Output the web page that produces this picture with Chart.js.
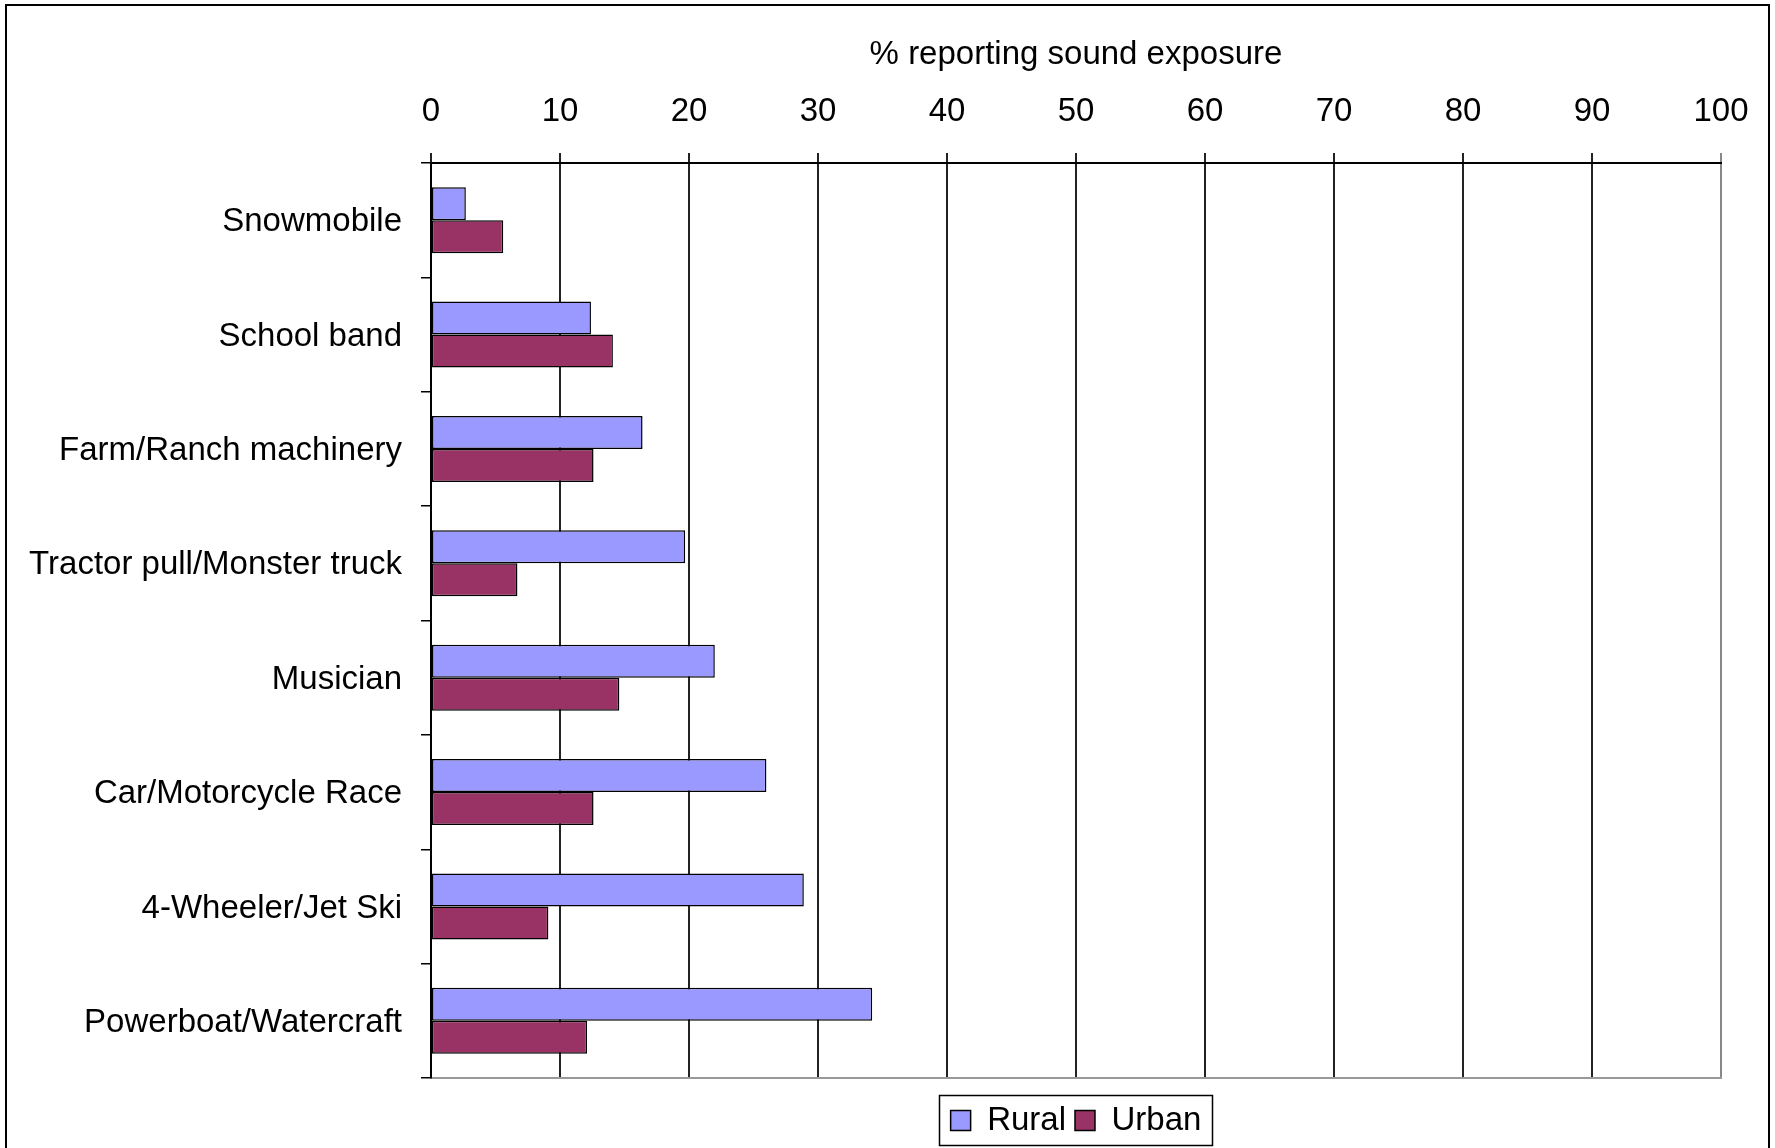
<!DOCTYPE html>
<html>
<head>
<meta charset="utf-8">
<script src="https://cdn.jsdelivr.net/npm/chart.js"></script>
<style>
  html, body { margin: 0; padding: 0; background: #fff; overflow: hidden; }
  #frame { position: absolute; left: 5px; top: 4px; width: 1761px; height: 1200px; border: 2px solid #000; }
  #wrap { position: absolute; left: 0; top: 0; width: 1775px; height: 1148px; }
</style>
</head>
<body>
<div id="frame"></div>
<div id="wrap"><canvas id="chart"></canvas></div>
<script>
// data
const categories = [
  'Snowmobile',
  'School band',
  'Farm/Ranch machinery',
  'Tractor pull/Monster truck',
  'Musician',
  'Car/Motorcycle Race',
  '4-Wheeler/Jet Ski',
  'Powerboat/Watercraft'
];
const seriesNames = ['Rural', 'Urban'];
const rural = [2.7, 12.4, 16.4, 19.7, 22.0, 26.0, 28.9, 34.2];
const urban = [5.6, 14.1, 12.6, 6.7, 14.6, 12.6, 9.1, 12.1];
const axisTitle = '% reporting sound exposure';
const axisMin = 0, axisMax = 100, axisStep = 10;

const FONT = '"Liberation Sans", Arial, sans-serif';
const FS = 33;
Chart.defaults.font.family = FONT;
Chart.defaults.color = '#000';

// box round the legend, like the spreadsheet one
const legendBorder = {
  id: 'legendBorder',
  afterDraw(chart) {
    const lg = chart.legend;
    if (!lg || !lg.legendHitBoxes || !lg.legendHitBoxes.length) return;
    const boxes = lg.legendHitBoxes;
    const left = Math.min(...boxes.map(b => b.left)) - 12;
    const right = Math.max(...boxes.map(b => b.left + b.width)) + 10;
    const ctx = chart.ctx;
    ctx.save();
    ctx.strokeStyle = '#000';
    ctx.lineWidth = 1.5;
    ctx.strokeRect(Math.round(left) + 0.5, lg.top + 0.5, Math.round(right - left), lg.height - 2);
    ctx.restore();
  }
};

const ctx = document.getElementById('chart').getContext('2d');
new Chart(ctx, {
  type: 'bar',
  data: {
    labels: categories,
    datasets: [
      { label: seriesNames[0], data: rural, backgroundColor: '#9999FF', borderColor: '#000', borderWidth: 1.5, borderSkipped: false, xAxisID: 'x' },
      { label: seriesNames[1], data: urban, backgroundColor: '#993366', borderColor: '#000', borderWidth: 1.5, borderSkipped: false, xAxisID: 'x' }
    ]
  },
  options: {
    indexAxis: 'y',
    responsive: true,
    maintainAspectRatio: false,
    animation: false,
    layout: { padding: { top: 0, left: 0, right: 54, bottom: 1 } },
    datasets: { bar: { categoryPercentage: 0.578, barPercentage: 1 } },
    scales: {
      x: {
        position: 'top',
        min: axisMin,
        max: axisMax,
        ticks: { stepSize: axisStep, font: { size: FS }, padding: 21, maxRotation: 0, autoSkip: false, color: '#000' },
        grid: {
          color: c => (c.tick && c.tick.value === axisMax ? '#888' : '#222'),
          lineWidth: 2,
          tickLength: 10,
          drawTicks: true
        },
        border: { color: '#000', width: 2 },
        title: { display: true, text: axisTitle, font: { size: FS }, padding: { top: 35, bottom: 0 }, color: '#000' },
        afterFit: s => { s.height = 163; }
      },
      // only there for the grey base line and the gap above the legend
      xb: {
        position: 'bottom',
        min: axisMin,
        max: axisMax,
        ticks: { display: false },
        grid: { display: false },
        border: { color: '#999', width: 2 },
        afterFit: s => { s.height = 17; }
      },
      y: {
        ticks: { font: { size: FS }, padding: 19, labelOffset: 2, color: '#000', autoSkip: false },
        grid: { drawOnChartArea: false, drawTicks: true, tickLength: 10, color: '#000', lineWidth: 1.5 },
        border: { color: '#000', width: 2 },
        afterFit: s => { s.width = 431; }
      }
    },
    plugins: {
      legend: {
        position: 'bottom',
        fullSize: false,
        labels: { font: { size: FS }, boxWidth: 20, boxHeight: 20, padding: 9, color: '#000' }
      },
      tooltip: { enabled: false }
    }
  },
  plugins: [legendBorder]
});
</script>
</body>
</html>
